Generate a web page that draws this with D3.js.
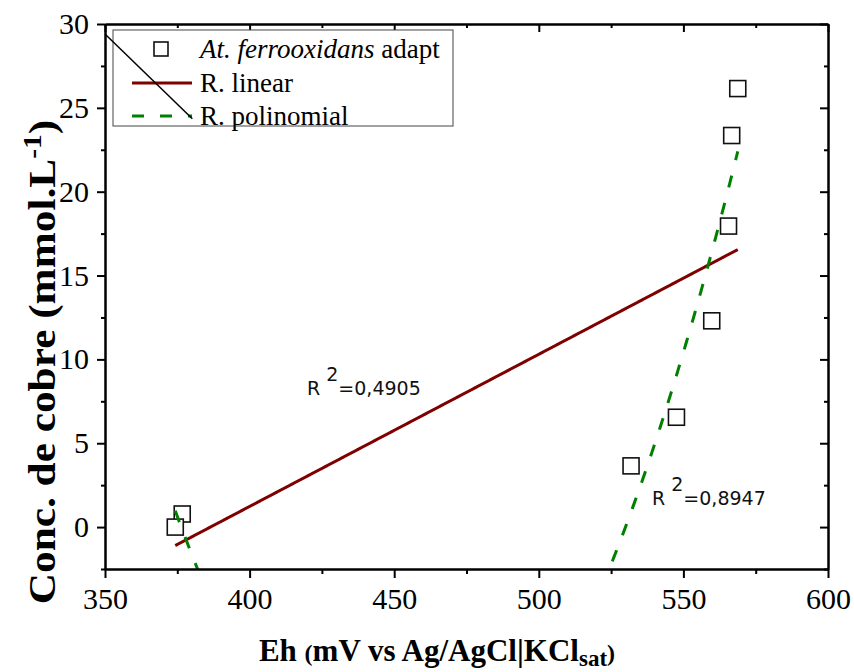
<!DOCTYPE html>
<html lang="en">
<head>
<meta charset="UTF-8">
<title>Conc. de cobre vs Eh</title>
<style>
  body { margin: 0; background: #fff; }
  svg text { font-family: "Liberation Serif", "Times New Roman", serif; }
</style>
</head>
<body>
<script src="https://cdn.jsdelivr.net/npm/d3@7/dist/d3.min.js"></script>
<script>
// data
var ehValues = [376.7, 374.3, 531.9, 547.6, 559.8, 565.6, 566.7, 568.8];
var cuValues = [0.78, 0.0, 3.65, 6.55, 12.3, 17.95, 23.35, 26.15];
var xTicks = [350, 400, 450, 500, 550, 600];
var yTicks = [0, 5, 10, 15, 20, 25, 30];
var xMinor = [375, 425, 475, 525, 575];
var yMinor = [-2.5, 2.5, 7.5, 12.5, 17.5, 22.5, 27.5];
var r2Labels = ['0,4905', '0,8947'];
// stray black stroke at the top left of the original figure
var strayX = [350, 380.2];
var strayY = [29.4, 24.35];

var W = 854, H = 672;
var m = {left: 105, right: 26, top: 24, bottom: 103};

var svg = d3.select('body').append('svg')
  .attr('width', W)
  .attr('height', H);

var x = d3.scaleLinear().domain([350, 600]).range([m.left, W - m.right]);
var y = d3.scaleLinear().domain([-2.5, 30]).range([H - m.bottom, m.top]);

var pts = d3.zip(ehValues, cuValues);

// linear fit
var mx = d3.mean(ehValues), my = d3.mean(cuValues);
var sxy = d3.sum(pts, function (p) { return (p[0] - mx) * (p[1] - my); });
var sxx = d3.sum(ehValues, function (v) { return (v - mx) * (v - mx); });
var slope = sxy / sxx, icpt = my - slope * mx;

// quadratic fit (least squares, centred x)
function solve3(A, b) {
  var M = A.map(function (r, i) { return r.concat([b[i]]); });
  for (var i = 0; i < 3; i++) {
    for (var k = i + 1; k < 3; k++) {
      var f = M[k][i] / M[i][i];
      for (var j = i; j < 4; j++) M[k][j] -= f * M[i][j];
    }
  }
  var s = [0, 0, 0];
  for (var i = 2; i >= 0; i--) {
    var t = M[i][3];
    for (var j = i + 1; j < 3; j++) t -= M[i][j] * s[j];
    s[i] = t / M[i][i];
  }
  return s;
}
var S = [0, 0, 0, 0, 0], T = [0, 0, 0];
pts.forEach(function (p) {
  var u = p[0] - mx;
  for (var k = 0; k < 5; k++) S[k] += Math.pow(u, k);
  for (var k = 0; k < 3; k++) T[k] += p[1] * Math.pow(u, k);
});
var q = solve3([[S[0], S[1], S[2]], [S[1], S[2], S[3]], [S[2], S[3], S[4]]], T);

var xLo = d3.min(ehValues), xHi = d3.max(ehValues);
var fitX = d3.range(xLo, xHi, 0.25).concat([xHi]);

svg.append('defs').append('clipPath').attr('id', 'clip')
  .append('rect')
  .attr('x', m.left).attr('y', m.top)
  .attr('width', W - m.left - m.right)
  .attr('height', H - m.top - m.bottom);

var plot = svg.append('g').attr('clip-path', 'url(#clip)');

// points (white filled squares)
plot.selectAll('rect.pt')
  .data(pts)
  .enter()
  .append('rect')
  .attr('class', 'pt')
  .attr('x', function (d) { return x(d[0]) - 8; })
  .attr('y', function (d) { return y(d[1]) - 8; })
  .attr('width', 16)
  .attr('height', 16)
  .attr('fill', '#fff')
  .attr('stroke', '#111')
  .attr('stroke-width', 1.6);

var line = d3.line()
  .x(function (d) { return x(d[0]); })
  .y(function (d) { return y(d[1]); });

plot.append('path')
  .datum(fitX.map(function (v) { return [v, icpt + slope * v]; }))
  .attr('d', line)
  .attr('fill', 'none')
  .attr('stroke', '#7f0000')
  .attr('stroke-width', 3);

plot.append('path')
  .datum(fitX.map(function (v) {
    var u = v - mx;
    return [v, q[0] + q[1] * u + q[2] * u * u];
  }))
  .attr('d', line)
  .attr('fill', 'none')
  .attr('stroke', '#008000')
  .attr('stroke-width', 3)
  .attr('stroke-dasharray', '12,16');

// axes
function axisStyle(g) {
  g.select('.domain').attr('stroke', '#000').attr('stroke-width', 2);
  g.selectAll('.tick line').attr('stroke', '#000').attr('stroke-width', 2);
  g.selectAll('.tick text')
    .attr('fill', '#000')
    .style('font-family', '"Liberation Serif", serif')
    .style('font-size', '30px');
}

var gx = svg.append('g')
  .attr('transform', 'translate(0,' + (H - m.bottom) + ')')
  .call(d3.axisBottom(x).tickValues(xTicks).tickSize(9).tickSizeOuter(0).tickPadding(8))
  .call(axisStyle);
svg.append('g')
  .attr('transform', 'translate(0,' + (H - m.bottom) + ')')
  .call(d3.axisBottom(x).tickValues(xMinor).tickSize(5).tickSizeOuter(0).tickFormat(''))
  .call(axisStyle);

svg.append('g')
  .attr('transform', 'translate(' + m.left + ',0)')
  .call(d3.axisLeft(y).tickValues(yTicks).tickSize(8).tickSizeOuter(0).tickPadding(8))
  .call(axisStyle);
svg.append('g')
  .attr('transform', 'translate(' + m.left + ',0)')
  .call(d3.axisLeft(y).tickValues(yMinor).tickSize(4).tickSizeOuter(0).tickFormat(''))
  .call(axisStyle);

// top and right: inward ticks, no labels
svg.append('g')
  .attr('transform', 'translate(0,' + m.top + ')')
  .call(d3.axisTop(x).tickValues(xTicks).tickSize(-8).tickSizeOuter(0).tickFormat(''))
  .call(axisStyle);
svg.append('g')
  .attr('transform', 'translate(0,' + m.top + ')')
  .call(d3.axisTop(x).tickValues(xMinor).tickSize(-4).tickSizeOuter(0).tickFormat(''))
  .call(axisStyle);
svg.append('g')
  .attr('transform', 'translate(' + (W - m.right) + ',0)')
  .call(d3.axisRight(y).tickValues(yTicks).tickSize(-8).tickSizeOuter(0).tickFormat(''))
  .call(axisStyle);
svg.append('g')
  .attr('transform', 'translate(' + (W - m.right) + ',0)')
  .call(d3.axisRight(y).tickValues(yMinor).tickSize(-4).tickSizeOuter(0).tickFormat(''))
  .call(axisStyle);

// bottom x labels sit a bit lower
gx.selectAll('.tick text').attr('dy', '0.78em');

// legend
var lg = svg.append('g');
lg.append('rect')
  .attr('x', 113).attr('y', 30)
  .attr('width', 340).attr('height', 96)
  .attr('fill', '#fff')
  .attr('stroke', '#444')
  .attr('stroke-width', 1);

var rows = [49, 83, 116];
lg.append('rect')
  .attr('x', 154).attr('y', rows[0] - 7)
  .attr('width', 14).attr('height', 14)
  .attr('fill', '#fff').attr('stroke', '#111').attr('stroke-width', 1.6);
lg.append('line')
  .attr('x1', 132).attr('x2', 192).attr('y1', rows[1]).attr('y2', rows[1])
  .attr('stroke', '#7f0000').attr('stroke-width', 3);
lg.append('line')
  .attr('x1', 132).attr('x2', 192).attr('y1', rows[2]).attr('y2', rows[2])
  .attr('stroke', '#008000').attr('stroke-width', 3)
  .attr('stroke-dasharray', '12,16');

var t1 = lg.append('text').attr('x', 200).attr('y', rows[0] + 9).style('font-size', '27px');
t1.append('tspan').style('font-style', 'italic').text('At. ferrooxidans');
t1.append('tspan').text(' adapt');
lg.append('text').attr('x', 200).attr('y', rows[1] + 9).style('font-size', '27px').text('R. linear');
lg.append('text').attr('x', 200).attr('y', rows[2] + 9).style('font-size', '27px').text('R. polinomial');

// stray diagonal stroke
svg.append('path')
  .datum(d3.zip(strayX, strayY))
  .attr('d', line)
  .attr('stroke', '#000')
  .attr('stroke-width', 1.5);

// R² annotations
function r2(px, py, val) {
  var t = svg.append('text')
    .attr('x', px).attr('y', py)
    .style('font-family', '"DejaVu Sans", sans-serif')
    .style('font-size', '19px')
    .attr('fill', '#111');
  t.append('tspan').text('R ');
  t.append('tspan').attr('dy', -14).style('font-size', '19px').text('2');
  t.append('tspan').attr('dy', 14).text('=' + val);
}
r2(307, 395, r2Labels[0]);
r2(652, 505, r2Labels[1]);

// axis titles
var xt = svg.append('text')
  .attr('x', 437).attr('y', 661)
  .attr('text-anchor', 'middle')
  .style('font-weight', 'bold')
  .style('font-size', '31px');
xt.append('tspan').text('Eh ');
xt.append('tspan').style('font-size', '24px').text('(');
xt.append('tspan').text('mV vs Ag/AgCl|KCl');
xt.append('tspan').attr('dy', 5).style('font-size', '23px').text('sat');
xt.append('tspan').attr('dy', -5).style('font-size', '24px').text(')');

var yt = svg.append('text')
  .attr('transform', 'translate(55,362) rotate(-90) scale(1.14,1)')
  .attr('text-anchor', 'middle')
  .style('font-weight', 'bold')
  .style('font-size', '38px');
yt.append('tspan').text('Conc. de cobre (mmol.L');
yt.append('tspan').attr('dy', -14).style('font-size', '26px').text('-1');
yt.append('tspan').attr('dy', 14).text(')');
</script>
</body>
</html>
